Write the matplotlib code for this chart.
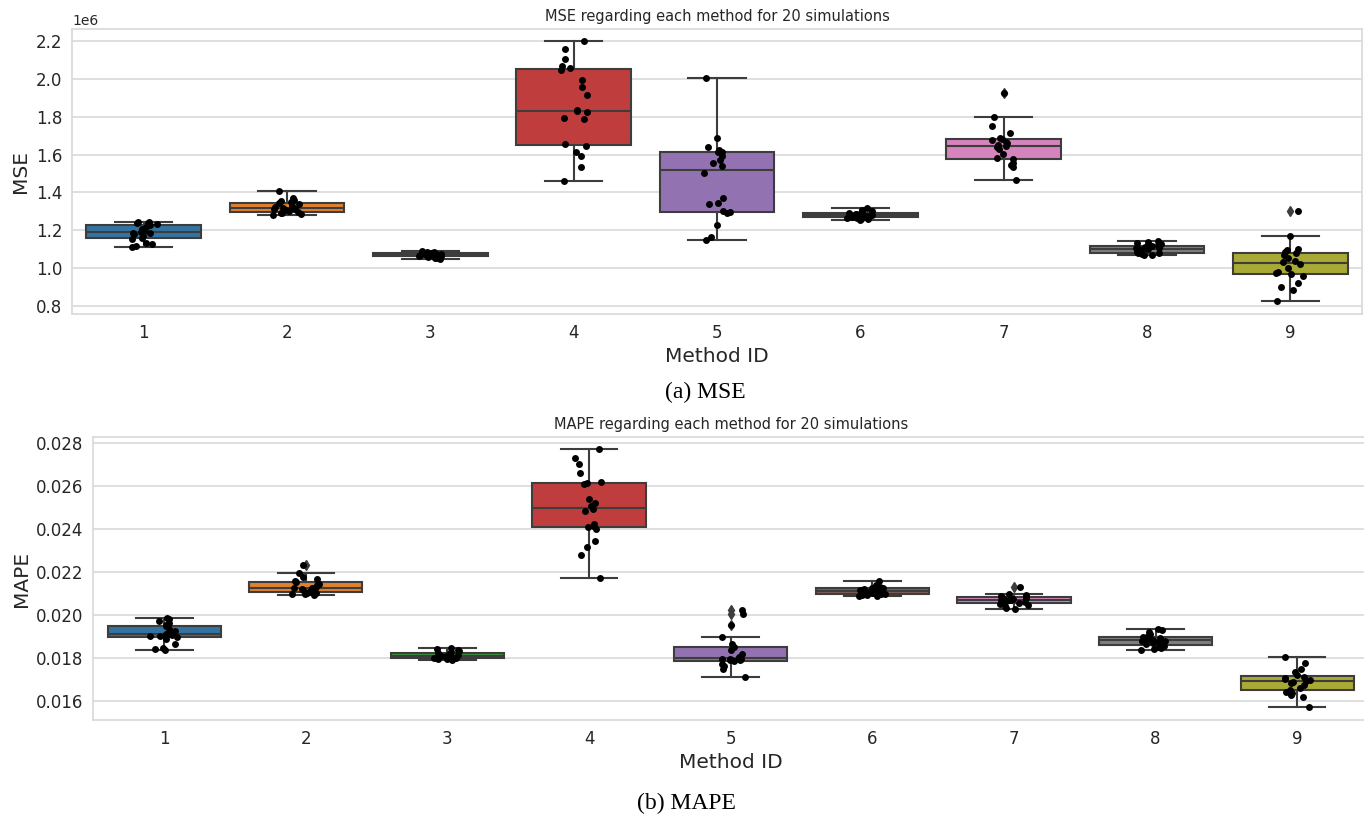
import colorsys
import numpy as np
import matplotlib
matplotlib.use("Agg")
import matplotlib.pyplot as plt
import matplotlib.colors as mcolors

# ---------------- data ----------------
method_ids = ["1", "2", "3", "4", "5", "6", "7", "8", "9"]

# MSE values (units of 1e6)
mse_m1 = [1.113, 1.118, 1.128, 1.135, 1.155, 1.160, 1.170, 1.178, 1.183, 1.187,
          1.191, 1.196, 1.205, 1.215, 1.227, 1.232, 1.236, 1.240, 1.243, 1.245]
mse_m2 = [1.281, 1.285, 1.290, 1.292, 1.295, 1.300, 1.305, 1.310, 1.314, 1.316,
          1.320, 1.325, 1.330, 1.338, 1.345, 1.350, 1.355, 1.362, 1.370, 1.405]
mse_m3 = [1.048, 1.052, 1.055, 1.058, 1.061, 1.063, 1.064, 1.065, 1.067, 1.068,
          1.068, 1.070, 1.072, 1.074, 1.077, 1.080, 1.082, 1.085, 1.087, 1.090]
mse_m4 = [1.460, 1.534, 1.594, 1.615, 1.647, 1.654, 1.786, 1.795, 1.826, 1.830,
          1.834, 1.913, 1.958, 1.992, 2.048, 2.058, 2.067, 2.104, 2.158, 2.200]
mse_m5 = [1.149, 1.166, 1.228, 1.290, 1.296, 1.300, 1.340, 1.343, 1.369, 1.501,
          1.541, 1.554, 1.571, 1.594, 1.612, 1.615, 1.623, 1.642, 1.686, 2.006]
mse_m6 = [1.255, 1.258, 1.262, 1.265, 1.267, 1.270, 1.272, 1.275, 1.277, 1.278,
          1.280, 1.282, 1.284, 1.286, 1.288, 1.292, 1.296, 1.302, 1.308, 1.317]
mse_m7 = [1.464, 1.533, 1.543, 1.556, 1.575, 1.580, 1.605, 1.628, 1.640, 1.644,
          1.648, 1.660, 1.668, 1.677, 1.682, 1.686, 1.715, 1.752, 1.800, 1.926]
mse_m8 = [1.067, 1.070, 1.074, 1.078, 1.081, 1.083, 1.087, 1.092, 1.096, 1.099,
          1.101, 1.104, 1.108, 1.112, 1.117, 1.121, 1.127, 1.133, 1.140, 1.145]
mse_m9 = [0.828, 0.887, 0.901, 0.922, 0.960, 0.970, 0.975, 0.980, 1.000, 1.020,
          1.030, 1.040, 1.055, 1.068, 1.078, 1.085, 1.095, 1.100, 1.172, 1.303]

# MAPE values
mape_m1 = [0.01835, 0.01840, 0.01846, 0.01862, 0.01885, 0.01897, 0.01900, 0.01903, 0.01906, 0.01908,
           0.01910, 0.01915, 0.01925, 0.01935, 0.01945, 0.01953, 0.01962, 0.01970, 0.01978, 0.01984]
mape_m2 = [0.02090, 0.02094, 0.02097, 0.02100, 0.02101, 0.02105, 0.02110, 0.02115, 0.02120, 0.02122,
           0.02126, 0.02130, 0.02136, 0.02143, 0.02150, 0.02158, 0.02165, 0.02175, 0.02192, 0.02231]
mape_m3 = [0.01790, 0.01792, 0.01794, 0.01796, 0.01797, 0.01798, 0.01800, 0.01803, 0.01806, 0.01808,
           0.01809, 0.01811, 0.01814, 0.01818, 0.01822, 0.01826, 0.01830, 0.01834, 0.01838, 0.01843]
mape_m4 = [0.02170, 0.02277, 0.02313, 0.02344, 0.02398, 0.02408, 0.02414, 0.02422, 0.02480, 0.02490,
           0.02505, 0.02520, 0.02536, 0.02606, 0.02612, 0.02615, 0.02657, 0.02700, 0.02730, 0.02771]
mape_m5 = [0.01709, 0.01745, 0.01760, 0.01772, 0.01784, 0.01787, 0.01790, 0.01793, 0.01795, 0.01796,
           0.01798, 0.01805, 0.01818, 0.01835, 0.01848, 0.01862, 0.01898, 0.01952, 0.02002, 0.02022]
mape_m6 = [0.02085, 0.02088, 0.02091, 0.02093, 0.02094, 0.02095, 0.02098, 0.02101, 0.02104, 0.02107,
           0.02109, 0.02111, 0.02114, 0.02118, 0.02122, 0.02123, 0.02126, 0.02130, 0.02138, 0.02155]
mape_m7 = [0.02026, 0.02030, 0.02038, 0.02045, 0.02050, 0.02053, 0.02058, 0.02062, 0.02066, 0.02068,
           0.02070, 0.02072, 0.02074, 0.02076, 0.02079, 0.02082, 0.02085, 0.02090, 0.02096, 0.02127]
mape_m8 = [0.01837, 0.01842, 0.01847, 0.01851, 0.01856, 0.01862, 0.01866, 0.01872, 0.01876, 0.01879,
           0.01882, 0.01886, 0.01889, 0.01893, 0.01897, 0.01901, 0.01910, 0.01920, 0.01928, 0.01935]
mape_m9 = [0.01572, 0.01615, 0.01625, 0.01635, 0.01642, 0.01650, 0.01660, 0.01672, 0.01682, 0.01688,
           0.01692, 0.01697, 0.01700, 0.01706, 0.01712, 0.01720, 0.01735, 0.01745, 0.01776, 0.01803]

mse_groups = [mse_m1, mse_m2, mse_m3, mse_m4, mse_m5, mse_m6, mse_m7, mse_m8, mse_m9]
mape_groups = [mape_m1, mape_m2, mape_m3, mape_m4, mape_m5, mape_m6, mape_m7, mape_m8, mape_m9]

# ---------------- style ----------------
plt.rcParams.update({
    "font.family": ["DejaVu Sans"],
    "text.color": "0.15",
    "axes.labelcolor": "0.15",
    "xtick.color": "0.15",
    "ytick.color": "0.15",
    "axes.edgecolor": "0.85",
    "axes.linewidth": 1.25,
})

base = ["#1f77b4", "#ff7f0e", "#2ca02c", "#d62728", "#9467bd",
        "#8c564b", "#e377c2", "#7f7f7f", "#bcbd22"]


def desaturate(c, prop=0.75):
    r, g, b = mcolors.to_rgb(c)
    h, l, s = colorsys.rgb_to_hls(r, g, b)
    return colorsys.hls_to_rgb(h, l, s * prop)


colors = [desaturate(c) for c in base]
edge = "#3d3d3d"

fig = plt.figure(figsize=(13.64, 8.16), dpi=100)
ax1 = fig.add_axes([0.0528, 0.6152, 0.9457, 0.3493])
ax2 = fig.add_axes([0.0685, 0.1176, 0.9344, 0.3468])

rng = np.random.default_rng(3)


def draw(ax, groups, scale, title, ylabel, ylim, yticks):
    data = [np.asarray(g) * scale for g in groups]
    pos = np.arange(len(groups))
    bp = ax.boxplot(data, positions=pos, widths=0.8, patch_artist=True,
                    whis=1.5, manage_ticks=False,
                    boxprops=dict(edgecolor=edge, linewidth=1.5),
                    medianprops=dict(color=edge, linewidth=1.5),
                    whiskerprops=dict(color=edge, linewidth=1.5),
                    capprops=dict(color=edge, linewidth=1.5),
                    flierprops=dict(marker="d", markerfacecolor=edge,
                                    markeredgecolor=edge, markersize=5))
    for patch, c in zip(bp["boxes"], colors):
        patch.set_facecolor(c)
        patch.set_zorder(2)
    for i, d in enumerate(data):
        jit = rng.uniform(-0.1, 0.1, len(d))
        ax.scatter(pos[i] + jit, d, s=25, color="black", linewidths=0, zorder=4)
    ax.set_xlim(-0.5, len(groups) - 0.5)
    ax.set_ylim(*ylim)
    ax.set_yticks(yticks)
    ax.set_xticks(pos)
    ax.set_xticklabels(method_ids)
    ax.yaxis.grid(True, color="0.85", linewidth=1.2)
    ax.xaxis.grid(False)
    ax.set_axisbelow(True)
    ax.tick_params(length=0, labelsize=12, pad=7)
    ax.set_title(title, fontsize=10.5, color="0.15")
    ax.set_xlabel("Method ID", fontsize=14.5)
    ax.set_ylabel(ylabel, fontsize=14.5)
    for s in ax.spines.values():
        s.set_color("0.85")


draw(ax1, mse_groups, 1e6, "MSE regarding each method for 20 simulations", "MSE",
     (0.7577e6, 2.2634e6), np.arange(0.8, 2.21, 0.2) * 1e6)
ax1.yaxis.get_offset_text().set_fontsize(10)

draw(ax2, mape_groups, 1.0, "MAPE regarding each method for 20 simulations", "MAPE",
     (0.0151, 0.028256), np.arange(0.016, 0.0281, 0.002))
ax2.yaxis.set_major_formatter(matplotlib.ticker.FormatStrFormatter("%.3f"))

fig.text(0.517, 1 - 392 / 816, "(a) MSE", family="Liberation Serif", fontsize=17,
         color="black", ha="center", va="center")
fig.text(0.503, 1 - 803 / 816, "(b) MAPE", family="Liberation Serif", fontsize=17,
         color="black", ha="center", va="center")

fig.savefig("out.png", dpi=100, facecolor="white")
